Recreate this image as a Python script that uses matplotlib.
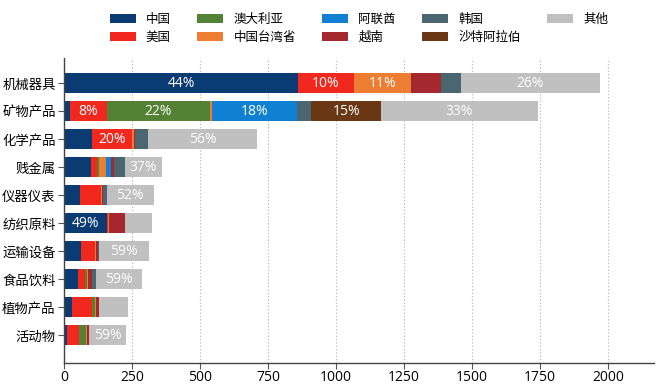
import matplotlib
matplotlib.use("Agg")
import matplotlib.pyplot as plt
import numpy as np

plt.rcParams['font.family'] = ['Noto Sans CJK SC', 'DejaVu Sans']

categories = ['机械器具', '矿物产品', '化学产品', '贱金属', '仪器仪表',
              '纺织原料', '运输设备', '食品饮料', '植物产品', '活动物']

series_names = ['中国', '美国', '澳大利亚', '中国台湾省', '阿联酋', '越南', '韩国', '沙特阿拉伯', '其他']

china     = [860, 22, 104, 100, 59, 158, 63, 50, 29, 12]
usa       = [206, 135, 145, 21, 76, 4, 52, 28, 74, 44]
australia = [0, 380, 0, 9, 0, 0, 0, 8, 12, 25]
taiwan    = [210, 8, 8, 24, 5, 2, 3, 4, 3, 2]
uae       = [0, 313, 0, 19, 0, 0, 0, 0, 0, 0]
vietnam   = [110, 0, 5, 10, 5, 59, 7, 14, 12, 10]
korea     = [74, 52, 48, 42, 12, 0, 3, 14, 0, 0]
saudi     = [0, 256, 0, 0, 0, 0, 0, 0, 0, 0]
other     = [511, 577, 398, 134, 173, 99, 186, 169, 104, 136]

colors = ['#0b3b73', '#f0281e', '#548235', '#ed7d31', '#0f80d2',
          '#a4282e', '#4a6670', '#6b3816', '#c0c0c0']

# segments that carry a percentage label: (category index, series name)
label_cells = [(0, '中国'), (0, '美国'), (0, '中国台湾省'), (0, '其他'),
               (1, '美国'), (1, '澳大利亚'), (1, '阿联酋'), (1, '沙特阿拉伯'), (1, '其他'),
               (2, '美国'), (2, '其他'),
               (3, '其他'), (4, '其他'), (5, '中国'),
               (6, '其他'), (7, '其他'), (9, '其他')]

xticks = [0, 250, 500, 750, 1000, 1250, 1500, 1750, 2000]

data = [china, usa, australia, taiwan, uae, vietnam, korea, saudi, other]
data = np.array(data, dtype=float)
totals = data.sum(axis=0)

fig = plt.figure(figsize=(6.6, 3.9), dpi=100)
ax = fig.add_axes([0.097, 0.069, 0.894, 0.782])

y = np.arange(len(categories))
left = np.zeros(len(categories))
bars = {}
for name, vals, col in zip(series_names, data, colors):
    ax.barh(y, vals, left=left, height=0.7, color=col, label=name, zorder=2)
    bars[name] = (vals.copy(), left.copy())
    left += vals

for ci, name in label_cells:
    vals, lefts = bars[name]
    v = vals[ci]
    pct = v / totals[ci] * 100
    ax.text(lefts[ci] + v / 2, y[ci], f'{pct:.0f}%', ha='center', va='center',
            color='white', fontsize=10, zorder=3,
            family=['Open Sans', 'DejaVu Sans'])

ax.set_yticks(y)
ax.set_yticklabels(categories, fontsize=9.6)
ax.set_ylim(len(categories), -0.9)
ax.set_xlim(0, 2170)
ax.set_xticks(xticks)
ax.set_xticklabels([str(t) for t in xticks], fontsize=10)
ax.tick_params(axis='y', length=4, pad=2, color='#555555')
ax.tick_params(axis='x', length=4, pad=1, color='#555555')
for lbl in ax.get_xticklabels():
    lbl.set_family(['Open Sans', 'DejaVu Sans'])

ax.grid(axis='x', linestyle=':', color='#bbbbbb', linewidth=0.9, zorder=0)
ax.set_axisbelow(True)
for s in ['top', 'right']:
    ax.spines[s].set_visible(False)
for s in ['left', 'bottom']:
    ax.spines[s].set_color('#444444')
    ax.spines[s].set_linewidth(1.0)

ax.legend(loc='lower center', bbox_to_anchor=(0.5, 1.03), ncol=5, frameon=False,
          fontsize=9, handlelength=2.1, handleheight=0.7, handletextpad=0.8,
          columnspacing=2.1, labelspacing=0.4, borderaxespad=0.0)

fig.savefig('out.png', dpi=100)
